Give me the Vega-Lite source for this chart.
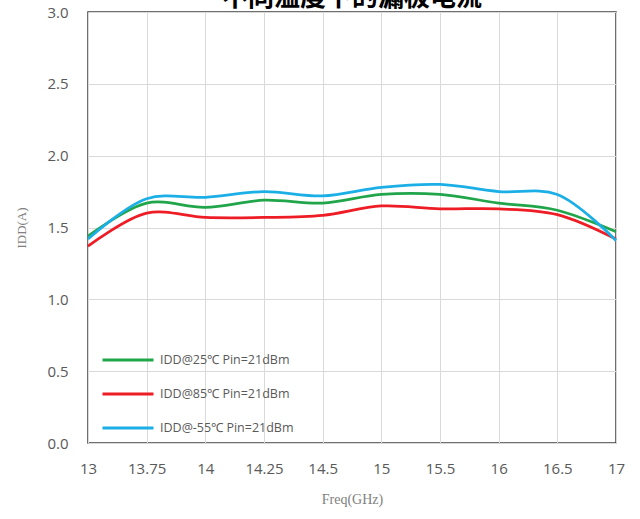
{
  "$schema": "https://vega.github.io/schema/vega-lite/v6.json",
  "width": 528,
  "height": 431,
  "autosize": "none",
  "padding": {"left": 88, "top": 12, "right": 24, "bottom": 76},
  "background": "white",
  "title": {"text": "不同温度下的漏极电流", "fontSize": 26, "font": "Noto Sans CJK SC", "fontWeight": "bold", "color": "black", "anchor": "middle", "offset": -6},
  "config": {
    "view": {"stroke": "#404040", "strokeWidth": 1.5},
    "axis": {"labelFont": "Open Sans", "labelColor": "#595959", "labelFontSize": 15, "ticks": false, "domain": false, "grid": true, "gridColor": "#d9d9d9", "gridWidth": 1, "titleFont": "Liberation Serif", "titleFontWeight": "normal", "titleColor": "#7f7f7f"}
  },
  "data": {"values": [
    {"freq": "13", "series": "IDD@25℃ Pin=21dBm", "idd": 1.44},
    {"freq": "13.75", "series": "IDD@25℃ Pin=21dBm", "idd": 1.67},
    {"freq": "14", "series": "IDD@25℃ Pin=21dBm", "idd": 1.64},
    {"freq": "14.25", "series": "IDD@25℃ Pin=21dBm", "idd": 1.69},
    {"freq": "14.5", "series": "IDD@25℃ Pin=21dBm", "idd": 1.67},
    {"freq": "15", "series": "IDD@25℃ Pin=21dBm", "idd": 1.73},
    {"freq": "15.5", "series": "IDD@25℃ Pin=21dBm", "idd": 1.73},
    {"freq": "16", "series": "IDD@25℃ Pin=21dBm", "idd": 1.67},
    {"freq": "16.5", "series": "IDD@25℃ Pin=21dBm", "idd": 1.62},
    {"freq": "17", "series": "IDD@25℃ Pin=21dBm", "idd": 1.47},
    {"freq": "13", "series": "IDD@85℃ Pin=21dBm", "idd": 1.37},
    {"freq": "13.75", "series": "IDD@85℃ Pin=21dBm", "idd": 1.60},
    {"freq": "14", "series": "IDD@85℃ Pin=21dBm", "idd": 1.57},
    {"freq": "14.25", "series": "IDD@85℃ Pin=21dBm", "idd": 1.57},
    {"freq": "14.5", "series": "IDD@85℃ Pin=21dBm", "idd": 1.585},
    {"freq": "15", "series": "IDD@85℃ Pin=21dBm", "idd": 1.65},
    {"freq": "15.5", "series": "IDD@85℃ Pin=21dBm", "idd": 1.63},
    {"freq": "16", "series": "IDD@85℃ Pin=21dBm", "idd": 1.63},
    {"freq": "16.5", "series": "IDD@85℃ Pin=21dBm", "idd": 1.59},
    {"freq": "17", "series": "IDD@85℃ Pin=21dBm", "idd": 1.42},
    {"freq": "13", "series": "IDD@-55℃ Pin=21dBm", "idd": 1.42},
    {"freq": "13.75", "series": "IDD@-55℃ Pin=21dBm", "idd": 1.70},
    {"freq": "14", "series": "IDD@-55℃ Pin=21dBm", "idd": 1.71},
    {"freq": "14.25", "series": "IDD@-55℃ Pin=21dBm", "idd": 1.75},
    {"freq": "14.5", "series": "IDD@-55℃ Pin=21dBm", "idd": 1.72},
    {"freq": "15", "series": "IDD@-55℃ Pin=21dBm", "idd": 1.78},
    {"freq": "15.5", "series": "IDD@-55℃ Pin=21dBm", "idd": 1.80},
    {"freq": "16", "series": "IDD@-55℃ Pin=21dBm", "idd": 1.75},
    {"freq": "16.5", "series": "IDD@-55℃ Pin=21dBm", "idd": 1.73},
    {"freq": "17", "series": "IDD@-55℃ Pin=21dBm", "idd": 1.41}
  ]},
  "mark": {"type": "line", "interpolate": "catmull-rom", "strokeWidth": 2.75},
  "encoding": {
    "x": {"field": "freq", "type": "ordinal", "sort": null,
      "scale": {"type": "point", "padding": 0, "domain": ["13", "13.75", "14", "14.25", "14.5", "15", "15.5", "16", "16.5", "17"]},
      "axis": {"labelAngle": 0, "labelPadding": 18, "title": "Freq(GHz)", "titleFontSize": 14, "titlePadding": 16}},
    "y": {"field": "idd", "type": "quantitative",
      "scale": {"domain": [0, 3], "nice": false, "zero": true},
      "axis": {"values": [0, 0.5, 1, 1.5, 2, 2.5, 3], "format": ".1f", "labelPadding": 20, "title": "IDD(A)", "titleFontSize": 13, "titlePadding": 18}},
    "color": {"field": "series", "type": "nominal", "sort": null,
      "scale": {"domain": ["IDD@25℃ Pin=21dBm", "IDD@85℃ Pin=21dBm", "IDD@-55℃ Pin=21dBm"], "range": ["#21A54A", "#EE1C25", "#1CAFE6"]},
      "legend": {"orient": "none", "legendX": 13, "legendY": 321, "title": null, "symbolType": "stroke", "symbolSize": 2600, "symbolStrokeWidth": 3, "labelFont": "Open Sans", "labelFontSize": 12.5, "labelColor": "#595959", "labelOffset": 5, "rowPadding": -3.5}}
  }
}
